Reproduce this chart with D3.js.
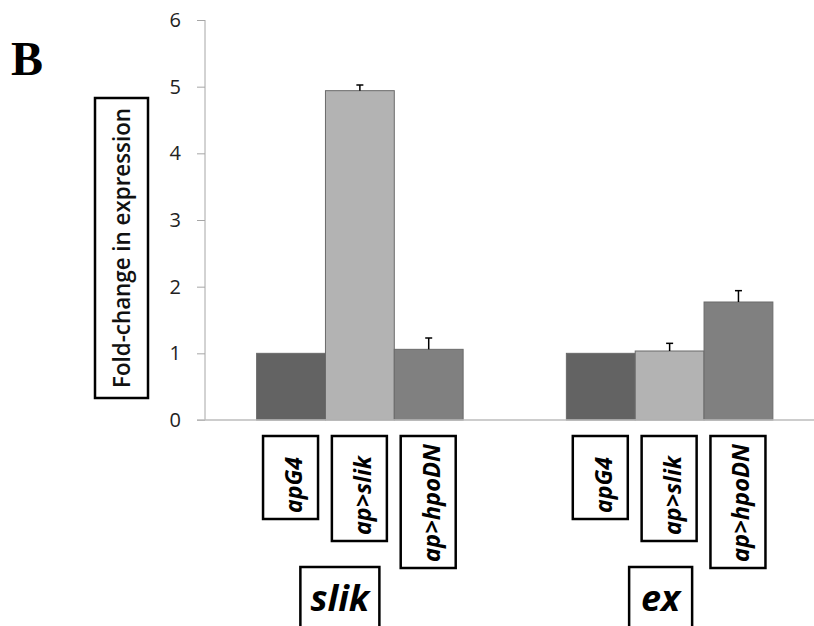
<!DOCTYPE html>
<html>
<head>
<meta charset="utf-8">
<script src="https://cdn.jsdelivr.net/npm/d3@7"></script>
<style>
  body { margin: 0; background: #fff; }
  svg { display: block; }
</style>
</head>
<body>
<div id="chart"></div>
<script>
// data
var groups = ["slik", "ex"];
var genotypes = ["apG4", "ap>slik", "ap>hpoDN"];
var slikValues = [1.0, 4.94, 1.06];
var slikErrors = [0, 0.085, 0.17];
var exValues = [1.0, 1.035, 1.77];
var exErrors = [0, 0.115, 0.17];
var yTicks = [0, 1, 2, 3, 4, 5, 6];

var colors = ["#636363", "#b3b3b3", "#808080"];
// label box heights and text lengths under each bar
var boxHeights = [83, 105, 132];
var labelLengths = [56, 79, 118];

var width = 814, height = 626;

var svg = d3.select("#chart")
  .append("svg")
    .attr("width", width)
    .attr("height", height);

// build rows for drawing
var rows = [];
groups.forEach(function(g, gi) {
  var vals = gi === 0 ? slikValues : exValues;
  var errs = gi === 0 ? slikErrors : exErrors;
  genotypes.forEach(function(s, si) {
    rows.push({group: g, series: s, si: si, value: vals[si], err: errs[si]});
  });
});

// scales
var y = d3.scaleLinear()
  .domain([0, 6])
  .range([420, 20]);

var x0 = d3.scaleBand()
  .domain(groups)
  .range([205, 824.5])
  .paddingInner(1 / 3)
  .paddingOuter(1 / 6);

var x1 = d3.scaleBand()
  .domain(genotypes)
  .range([0, x0.bandwidth()]);

// panel letter
svg.append("text")
  .attr("x", 11)
  .attr("y", 75)
  .style("font-family", "'Liberation Serif', 'Times New Roman', serif")
  .style("font-weight", "bold")
  .style("font-size", "48px")
  .text("B");

// y axis
var yAxis = svg.append("g")
  .attr("transform", "translate(205,0)")
  .call(d3.axisLeft(y).tickValues(yTicks).tickSize(8).tickPadding(16).tickFormat(d3.format("d")));
yAxis.select(".domain").attr("stroke", "#a6a6a6").attr("d", "M0," + y(6) + "V" + y(0));
yAxis.selectAll(".tick line").attr("stroke", "#a6a6a6");
yAxis.selectAll(".tick text")
  .style("font-family", "'Open Sans', sans-serif")
  .style("font-size", "20px")
  .attr("fill", "#222");

// bars
svg.selectAll("rect.bar")
  .data(rows)
  .enter()
  .append("rect")
    .attr("class", "bar")
    .attr("x", function(d) { return x0(d.group) + x1(d.series); })
    .attr("y", function(d) { return y(d.value); })
    .attr("width", x1.bandwidth())
    .attr("height", function(d) { return y(0) - y(d.value); })
    .attr("fill", function(d) { return colors[d.si]; })
    .attr("stroke", "#6a6a6a")
    .attr("stroke-width", 1);

// baseline
svg.append("line")
  .attr("x1", 197).attr("x2", width)
  .attr("y1", y(0)).attr("y2", y(0))
  .attr("stroke", "#bdbdbd")
  .attr("stroke-width", 1.5);

// error bars (upper only)
var errRows = rows.filter(function(d) { return d.err > 0; });
var cx = function(d) { return x0(d.group) + x1(d.series) + x1.bandwidth() / 2; };
svg.selectAll("line.err")
  .data(errRows)
  .enter()
  .append("line")
    .attr("x1", cx).attr("x2", cx)
    .attr("y1", function(d) { return y(d.value); })
    .attr("y2", function(d) { return y(d.value + d.err); })
    .attr("stroke", "#000")
    .attr("stroke-width", 1.5);
svg.selectAll("line.cap")
  .data(errRows)
  .enter()
  .append("line")
    .attr("x1", function(d) { return cx(d) - 3.5; })
    .attr("x2", function(d) { return cx(d) + 3.5; })
    .attr("y1", function(d) { return y(d.value + d.err); })
    .attr("y2", function(d) { return y(d.value + d.err); })
    .attr("stroke", "#000")
    .attr("stroke-width", 1.5);

// y axis title in a box
svg.append("rect")
  .attr("x", 95).attr("y", 98)
  .attr("width", 53).attr("height", 300)
  .attr("fill", "none")
  .attr("stroke", "#000")
  .attr("stroke-width", 2.5);
svg.append("text")
  .attr("transform", "translate(130,248) rotate(-90)")
  .attr("text-anchor", "middle")
  .attr("textLength", 280)
  .attr("lengthAdjust", "spacingAndGlyphs")
  .style("font-family", "'Open Sans', sans-serif")
  .style("font-size", "23px")
  .style("font-weight", "600")
  .attr("fill", "#111")
  .text("Fold-change in expression");

// genotype labels in boxes under each bar
var labels = svg.selectAll("g.lab")
  .data(rows)
  .enter()
  .append("g")
    .attr("class", "lab");
labels.append("rect")
  .attr("x", function(d) { return cx(d) - 28; })
  .attr("y", 436)
  .attr("width", 55)
  .attr("height", function(d) { return boxHeights[d.si]; })
  .attr("fill", "#fff")
  .attr("stroke", "#000")
  .attr("stroke-width", 2.5);
labels.append("text")
  .attr("transform", function(d) {
    return "translate(" + (cx(d) + 11) + "," + (436 + boxHeights[d.si] - 6) + ") rotate(-90)";
  })
  .attr("text-anchor", "start")
  .attr("textLength", function(d) { return labelLengths[d.si]; })
  .attr("lengthAdjust", "spacingAndGlyphs")
  .style("font-family", "'Open Sans', sans-serif")
  .style("font-size", "24px")
  .style("font-weight", "bold")
  .style("font-style", "italic")
  .attr("fill", "#000")
  .text(function(d) { return d.series; });

// gene labels in boxes
var groupShift = [-20, -9];
var groupBoxW = [79, 63];
groups.forEach(function(g, gi) {
  var c = x0(g) + x0.bandwidth() / 2 + groupShift[gi];
  svg.append("rect")
    .attr("x", c - groupBoxW[gi] / 2)
    .attr("y", 567)
    .attr("width", groupBoxW[gi])
    .attr("height", 80)
    .attr("fill", "#fff")
    .attr("stroke", "#000")
    .attr("stroke-width", 2.5);
  svg.append("text")
    .attr("x", c)
    .attr("y", 611)
    .attr("text-anchor", "middle")
    .style("font-family", "'Open Sans', sans-serif")
    .style("font-size", "36px")
    .style("font-weight", "bold")
    .style("font-style", "italic")
    .attr("fill", "#000")
    .text(g);
});
</script>
</body>
</html>
